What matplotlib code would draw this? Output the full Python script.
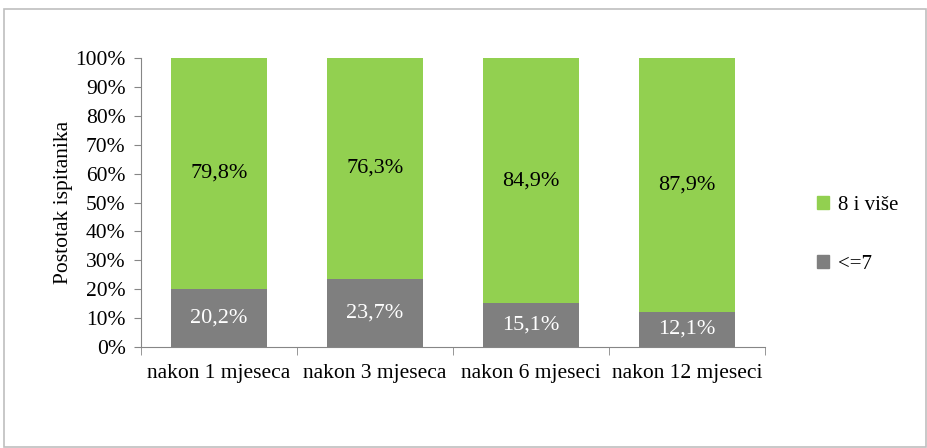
import matplotlib
matplotlib.use("Agg")
import matplotlib.pyplot as plt
from matplotlib.patches import Rectangle, Patch
import numpy as np

categories = ["nakon 1 mjeseca", "nakon 3 mjeseca", "nakon 6 mjeseci", "nakon 12 mjeseci"]
low = [20.2, 23.7, 15.1, 12.1]      # <=7
high = [79.8, 76.3, 84.9, 87.9]     # 8 i više
low_labels = ["20,2%", "23,7%", "15,1%", "12,1%"]
high_labels = ["79,8%", "76,3%", "84,9%", "87,9%"]
yticks = [0, 10, 20, 30, 40, 50, 60, 70, 80, 90, 100]

plt.rcParams['font.family'] = ['Liberation Serif', 'DejaVu Serif']

green = "#92D050"
gray = "#7F7F7F"
axc = "#868686"
fs = 15.5

fig = plt.figure(figsize=(9.28, 4.48), dpi=100)
fig.patches.append(Rectangle((4/928, 0.002), 922/928, 1 - 9/448 - 0.002, transform=fig.transFigure,
                             fill=False, edgecolor="#BFBFBF", linewidth=1.2))
ax = fig.add_axes([141/928, 1 - 347/448, (765 - 141)/928, (347 - 58)/448])

x = np.arange(len(categories))
w = 0.62
ax.bar(x, low, width=w, color=gray, label="<=7")
ax.bar(x, high, width=w, bottom=low, color=green, label="8 i više")

for i in range(len(categories)):
    ax.text(x[i], low[i] / 2, low_labels[i], ha="center", va="center", color="white", fontsize=16)
    ax.text(x[i], low[i] + high[i] / 2, high_labels[i], ha="center", va="center", color="black", fontsize=16)

ax.set_xlim(-0.5, len(categories) - 0.5)
ax.set_ylim(0, 100)
ax.set_yticks(yticks)
ax.set_yticklabels([f"{t}%" for t in yticks], fontsize=fs)
ax.set_xticks(x)
ax.set_xticklabels(categories, fontsize=fs)
ax.tick_params(axis="x", length=0, pad=12)
ax.set_xticks(np.arange(-0.5, len(categories)), minor=True)
ax.tick_params(axis="x", which="minor", length=6, color=axc, direction="out")
ax.tick_params(axis="y", length=5, color=axc, direction="out", pad=6)
for s in ["top", "right"]:
    ax.spines[s].set_visible(False)
for s in ["left", "bottom"]:
    ax.spines[s].set_color(axc)
ax.set_ylabel("Postotak ispitanika", fontsize=fs, labelpad=2)

handles = [Patch(color=green, label="8 i više"), Patch(color=gray, label="<=7")]
fig.legend(handles=handles, loc="center left", bbox_to_anchor=(798/928, 1 - 235/448), frameon=False,
           fontsize=15, handlelength=0.6, handleheight=0.6, handletextpad=0.4, labelspacing=1.9)

fig.savefig("out.png", dpi=100)
